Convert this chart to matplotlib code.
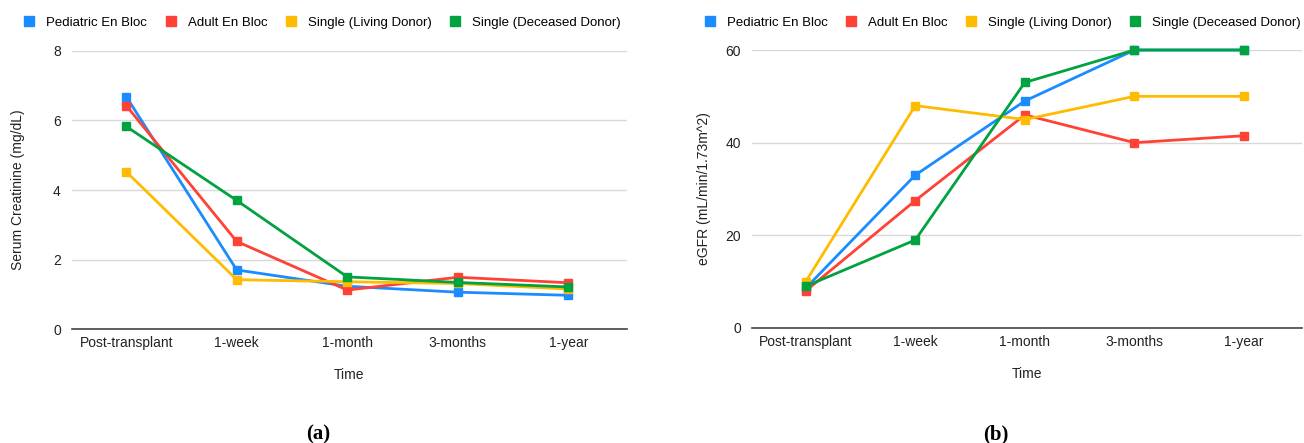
import numpy as np
import matplotlib
matplotlib.use("Agg")
import matplotlib.pyplot as plt

plt.rcParams['font.family'] = ['Liberation Sans', 'DejaVu Sans']

# Time points shared by both panels
time_points = ["Post-transplant", "1-week", "1-month", "3-months", "1-year"]
series_names = ["Pediatric En Bloc", "Adult En Bloc", "Single (Living Donor)", "Single (Deceased Donor)"]
series_colors = ["#1a8cff", "#ff4136", "#ffbb00", "#00a33f"]

# Panel (a): serum creatinine (mg/dL)
creat_pediatric = [6.69, 1.70, 1.23, 1.06, 0.97]
creat_adult = [6.43, 2.52, 1.12, 1.49, 1.33]
creat_living = [4.53, 1.42, 1.36, 1.31, 1.15]
creat_deceased = [5.83, 3.70, 1.50, 1.34, 1.21]

# Panel (b): eGFR (mL/min/1.73m^2)
egfr_pediatric = [8.6, 33, 49, 60, 60]
egfr_adult = [8, 27.5, 46, 40, 41.5]
egfr_living = [10, 48, 45, 50, 50]
egfr_deceased = [9, 19, 53, 60, 60]


# Draw one Google-Sheets-style line panel
def draw_panel(ax, series, ylim, yticks, ylabel, ylabelpad):
    x = np.arange(len(time_points))
    for name, values, color in zip(series_names, series, series_colors):
        ax.plot(x, values, color=color, linewidth=2, marker="s", markersize=5.5,
                label=name, clip_on=False, zorder=3)
    ax.set_xlim(-0.49, len(time_points) - 0.47)
    ax.set_ylim(*ylim)
    ax.set_yticks(yticks)
    ax.set_xticks(x)
    ax.set_xticklabels(time_points, fontsize=10, color="#222222")
    ax.tick_params(axis="y", labelsize=10, labelcolor="#222222", length=0, pad=8)
    ax.tick_params(axis="x", length=0, pad=5)
    ax.grid(axis="y", color="#d9d9d9", linewidth=1)
    ax.set_axisbelow(True)
    for side in ["top", "right", "left"]:
        ax.spines[side].set_visible(False)
    ax.spines["bottom"].set_color("#444444")
    ax.spines["bottom"].set_linewidth(1.2)
    ax.set_xlabel("Time", fontsize=10, color="#222222", labelpad=13)
    ax.set_ylabel(ylabel, fontsize=10, color="#222222", labelpad=ylabelpad)


fig = plt.figure(figsize=(13.04, 4.43), dpi=100)
ax_a = fig.add_axes([0.0552, 0.2573, 0.4256, 0.6276])
ax_b = fig.add_axes([0.5767, 0.2596, 0.4218, 0.6275])

draw_panel(ax_a, [creat_pediatric, creat_adult, creat_living, creat_deceased],
           (0, 8), [0, 2, 4, 6, 8], "Serum Creatinine (mg/dL)", 20)
draw_panel(ax_b, [egfr_pediatric, egfr_adult, egfr_living, egfr_deceased],
           (0, 60), [0, 20, 40, 60], "eGFR (mL/min/1.73m^2)", 10)

# Legends with square markers above each panel
for x0 in [0.0165, 0.5383]:
    handles = [plt.Line2D([], [], color=c, marker="s", linestyle="none", markersize=6.5)
               for c in series_colors]
    fig.legend(handles, series_names, loc="center left", bbox_to_anchor=(x0, 0.949),
               ncol=4, frameon=False, fontsize=9.5, handletextpad=0.68, columnspacing=1.18,
               handlelength=1.2, borderpad=0, borderaxespad=0)

fig.text(0.244, 0.008, "(a)", fontsize=15, fontweight="bold", family="Liberation Serif", ha="center")
fig.text(0.764, 0.008, "(b)", fontsize=15, fontweight="bold", family="Liberation Serif", ha="center")

fig.savefig("out.png", dpi=100)
